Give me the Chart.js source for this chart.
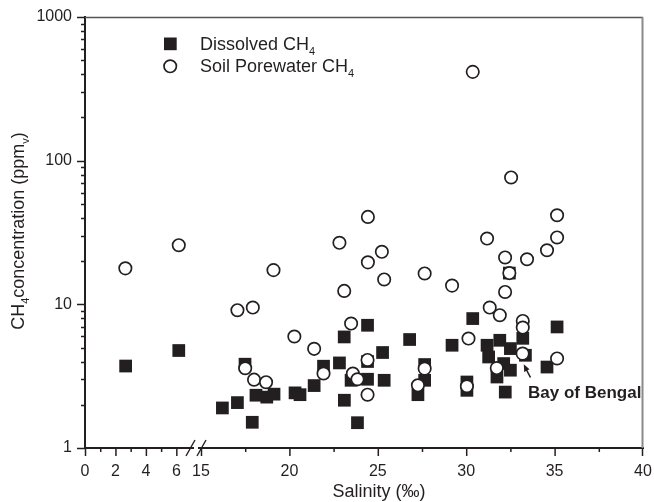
<!DOCTYPE html>
<html><head><meta charset="utf-8">
<script src="https://cdn.jsdelivr.net/npm/chart.js@4"></script>
<style>html,body{margin:0;padding:0;background:#fff}</style>
</head><body>
<canvas id="c" width="654" height="502"></canvas>
<script>
// ---- data ----
const dissolvedSalinity = [2.67, 6.16, 16.21, 17.06, 17.49, 17.90, 18.11, 18.72, 19.13, 20.32, 20.60, 21.40, 21.93, 22.83, 23.10, 23.11, 23.49, 23.85, 24.42, 24.42, 24.42, 25.27, 25.36, 26.80, 27.65, 27.65, 27.27, 29.20, 30.37, 30.04, 30.04, 31.18, 31.90, 31.27, 32.50, 32.12, 32.50, 31.74, 32.21, 32.44, 33.20, 33.35, 34.57, 35.14];
const dissolvedCH4 = [3.72, 4.77, 1.90, 2.07, 3.83, 1.51, 2.33, 2.26, 2.37, 2.42, 2.35, 2.72, 3.71, 3.91, 5.93, 2.15, 2.96, 1.50, 7.15, 3.01, 4.0, 4.62, 2.96, 5.69, 3.81, 2.96, 2.35, 5.19, 7.96, 2.88, 2.52, 5.19, 5.62, 4.30, 4.92, 3.87, 3.48, 3.12, 2.45, 16.5, 5.8, 4.42, 3.66, 6.96];
const porewaterSalinity = [2.65, 6.16, 17.06, 17.93, 19.10, 20.28, 21.40, 17.50, 18.00, 18.68, 21.93, 22.83, 23.10, 23.49, 23.59, 23.85, 24.42, 24.42, 24.44, 24.44, 25.23, 25.36, 27.65, 27.65, 27.27, 29.20, 30.13, 30.04, 30.37, 31.18, 31.33, 31.90, 31.73, 32.20, 32.20, 32.44, 32.54, 33.20, 33.20, 33.19, 33.44, 34.57, 35.14, 35.14, 35.14];
const porewaterCH4 = [17.8, 25.8, 9.1, 9.5, 17.3, 5.97, 4.9, 3.59, 2.99, 2.87, 3.3, 26.8, 12.4, 7.35, 3.3, 3.01, 4.1, 2.35, 19.6, 40.6, 23.2, 14.9, 16.4, 3.57, 2.73, 13.5, 5.78, 2.69, 415, 28.7, 9.5, 8.4, 3.6, 21.2, 12.2, 16.5, 76.4, 7.66, 6.89, 4.54, 20.6, 23.8, 41.7, 29.2, 4.2];

const lowSalinityTicks = [0, 1, 2, 3, 4, 5, 6];
const lowSalinityLabels = [0, 2, 4, 6];
const highSalinityTicks = [15, 17.5, 20, 22.5, 25, 27.5, 30, 32.5, 35, 37.5, 40];
const highSalinityLabels = [15, 20, 25, 30, 35, 40];
const ch4Ticks = [1,2,3,4,5,6,7,8,9,10,20,30,40,50,60,70,80,90,100,200,300,400,500,600,700,800,900,1000];
const ch4Labels = [1, 10, 100, 1000];
const BREAK_AT = 10; // salinity values below this use the low-range axis segment

const INK = '#231f20';
const FAM = '"Liberation Sans", Arial, Helvetica, sans-serif';

function points(sal, ch4, low) {
  return sal.map((s, i) => ({x: s, y: ch4[i]})).filter(p => low ? p.x < BREAK_AT : p.x >= BREAK_AT);
}

const circleStyle = {pointStyle: 'circle', pointRadius: 6.2, pointHoverRadius: 6.2, borderWidth: 1.7, pointBorderColor: INK, pointBackgroundColor: '#ffffff', order: 1};
const squareStyle = {pointStyle: 'rect', pointRadius: 9, pointHoverRadius: 9, borderWidth: 0, pointBorderColor: INK, pointBackgroundColor: INK, order: 2};

const datasets = [
  Object.assign({label: 'Soil Porewater CH4', data: points(porewaterSalinity, porewaterCH4, true), xAxisID: 'xLow', yAxisID: 'y'}, circleStyle),
  Object.assign({label: 'Soil Porewater CH4', data: points(porewaterSalinity, porewaterCH4, false), xAxisID: 'xHigh', yAxisID: 'y'}, circleStyle),
  Object.assign({label: 'Dissolved CH4', data: points(dissolvedSalinity, dissolvedCH4, true), xAxisID: 'xLow', yAxisID: 'y'}, squareStyle),
  Object.assign({label: 'Dissolved CH4', data: points(dissolvedSalinity, dissolvedCH4, false), xAxisID: 'xHigh', yAxisID: 'y'}, squareStyle)
];

const tickFont = {family: FAM, size: 16};

function zeroPad(s) { s.paddingTop = 0; s.paddingBottom = 0; s.paddingLeft = 0; s.paddingRight = 0; }

function xAxis(min, max, weight, tickVals, labelVals) {
  return {
    type: 'linear', position: 'bottom', stack: 'salinity', stackWeight: weight,
    min: min, max: max,
    afterBuildTicks: s => { s.ticks = tickVals.map(v => ({value: v})); },
    afterFit: s => { s.height = 54; zeroPad(s); },
    grid: {display: false, drawTicks: false},
    border: {display: true, color: INK, width: 2},
    ticks: {autoSkip: false, maxRotation: 0, padding: 14, font: tickFont, color: INK,
      callback: v => labelVals.includes(v) ? String(v) : ''}
  };
}

function drawParts(ctx, parts, x, y, align) {
  const main = '18px ' + FAM, sub = '11px ' + FAM;
  let w = 0;
  parts.forEach(p => { ctx.font = p[1] ? sub : main; w += ctx.measureText(p[0]).width; });
  let cx = align === 'center' ? x - w / 2 : x;
  ctx.textAlign = 'left';
  parts.forEach(p => {
    ctx.font = p[1] ? sub : main;
    ctx.fillText(p[0], cx, y + (p[1] ? 5 : 0));
    cx += ctx.measureText(p[0]).width;
  });
}

const decor = {
  id: 'decor',
  afterDraw(chart) {
    const ctx = chart.ctx, a = chart.chartArea;
    const y = chart.scales.y, xl = chart.scales.xLow, xh = chart.scales.xHigh;
    ctx.save();
    // frame top & right
    ctx.beginPath(); ctx.strokeStyle = '#555'; ctx.lineWidth = 1.3;
    ctx.moveTo(a.left, a.top + 0.5); ctx.lineTo(a.right, a.top + 0.5); ctx.stroke();
    ctx.beginPath(); ctx.strokeStyle = '#8a8a8a'; ctx.lineWidth = 2;
    ctx.moveTo(a.right - 0.5, a.top); ctx.lineTo(a.right - 0.5, a.bottom); ctx.stroke();
    // y tick marks
    ctx.strokeStyle = INK; ctx.lineWidth = 1.5;
    ch4Ticks.forEach(v => {
      const py = Math.round(y.getPixelForValue(v)) + 0.5;
      const len = ch4Labels.includes(v) ? 8 : 4;
      ctx.beginPath(); ctx.moveTo(a.left - len, py); ctx.lineTo(a.left, py); ctx.stroke();
    });
    // x tick marks
    lowSalinityTicks.forEach(v => {
      const px = xl.getPixelForValue(v) + 0.5;
      const len = lowSalinityLabels.includes(v) ? 8 : 4;
      ctx.beginPath(); ctx.moveTo(px, a.bottom); ctx.lineTo(px, a.bottom + len); ctx.stroke();
    });
    highSalinityTicks.forEach(v => {
      let px = xh.getPixelForValue(v) + 0.5;
      if (v === 40) px -= 1;
      const len = highSalinityLabels.includes(v) ? 8 : 4;
      ctx.beginPath(); ctx.moveTo(px, a.bottom); ctx.lineTo(px, a.bottom + len); ctx.stroke();
    });
    // axis break marks
    const bx = xh.getPixelForValue(15);
    ctx.fillStyle = '#fff';
    ctx.fillRect(bx - 7, a.bottom - 1.5, 4, 3.5);
    ctx.strokeStyle = INK; ctx.lineWidth = 1.4;
    [[bx - 15, bx - 6], [bx - 4, bx + 5]].forEach(s => {
      ctx.beginPath(); ctx.moveTo(s[0], a.bottom + 8); ctx.lineTo(s[1], a.bottom - 8); ctx.stroke();
    });
    // axis titles
    ctx.fillStyle = INK; ctx.textBaseline = 'alphabetic';
    ctx.font = '18px ' + FAM; ctx.textAlign = 'center';
    ctx.fillText('Salinity (\u2030)', 379, 497);
    ctx.save();
    ctx.translate(24, 231); ctx.rotate(-Math.PI / 2);
    drawParts(ctx, [['CH', false], ['4', true], ['concentration (ppm', false], ['v', true], [')', false]], 0, 0, 'center');
    ctx.restore();
    // legend
    ctx.fillStyle = INK;
    ctx.fillRect(164, 37.5, 12.7, 12.7);
    ctx.beginPath(); ctx.arc(170.2, 66.3, 6.2, 0, Math.PI * 2);
    ctx.fillStyle = '#fff'; ctx.fill(); ctx.strokeStyle = INK; ctx.lineWidth = 1.7; ctx.stroke();
    ctx.fillStyle = INK;
    drawParts(ctx, [['Dissolved CH', false], ['4', true]], 200, 50, 'left');
    drawParts(ctx, [['Soil Porewater CH', false], ['4', true]], 200, 72, 'left');
    // annotation
    ctx.font = 'bold 17px ' + FAM; ctx.textAlign = 'left';
    ctx.fillText('Bay of Bengal', 528, 397.5);
    ctx.beginPath(); ctx.lineWidth = 1.6;
    ctx.moveTo(530.5, 377.5); ctx.lineTo(526, 369); ctx.stroke();
    ctx.beginPath();
    ctx.moveTo(523.8, 364.2); ctx.lineTo(529.5, 369.2); ctx.lineTo(524.2, 372); ctx.closePath(); ctx.fill();
    ctx.restore();
  }
};

new Chart(document.getElementById('c'), {
  type: 'scatter',
  data: {datasets: datasets},
  options: {
    responsive: false, animation: false, devicePixelRatio: 1,
    events: [],
    layout: {padding: {top: 17, right: 11, left: 0, bottom: 0}},
    plugins: {legend: {display: false}, tooltip: {enabled: false}},
    scales: {
      xLow: xAxis(0, 7.62, 116, lowSalinityTicks, lowSalinityLabels),
      xHigh: xAxis(15, 40, 442, highSalinityTicks, highSalinityLabels),
      y: {
        type: 'logarithmic', position: 'left', min: 1, max: 1000,
        afterBuildTicks: s => { s.ticks = ch4Ticks.map(v => ({value: v})); },
        afterFit: s => { s.width = 85; zeroPad(s); },
        grid: {display: false, drawTicks: false},
        border: {display: true, color: INK, width: 2},
        ticks: {autoSkip: false, padding: 13, font: tickFont, color: INK,
          callback: v => ch4Labels.includes(v) ? String(v) : ''}
      }
    }
  },
  plugins: [decor]
});
</script>
</body></html>
